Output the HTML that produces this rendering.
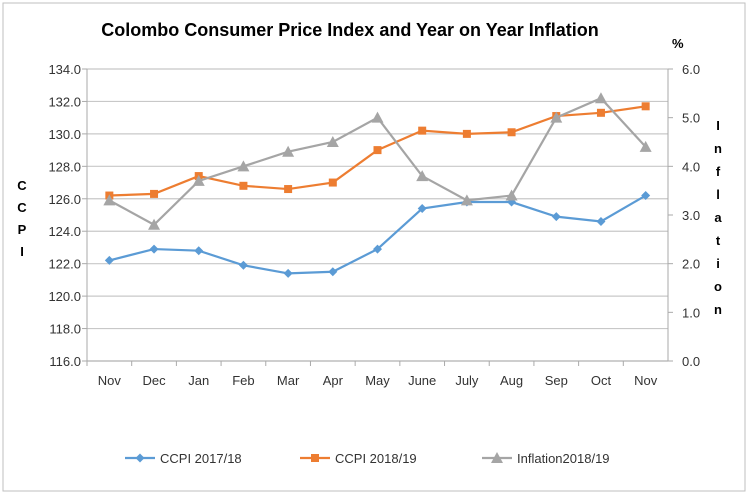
<!DOCTYPE html>
<html><head><meta charset="utf-8">
<style>
body{margin:0;background:#fff;font-family:"Liberation Sans",sans-serif;}
svg{display:block;}
</style></head>
<body>
<svg id="chart" width="750" height="496">
<rect x="3" y="3" width="742" height="488" fill="#fff" stroke="#bfbfbf"/>
<text x="350" y="36" text-anchor="middle" font-size="18" font-weight="bold" fill="#000">Colombo Consumer Price Index and Year on Year Inflation</text>
<text x="672" y="48" font-size="13" font-weight="bold">%</text>
<g id="grid"></g><g id="axes"></g><g id="series"></g>
<g font-size="13" font-weight="bold">
<text x="22" y="190" text-anchor="middle">C</text><text x="22" y="212" text-anchor="middle">C</text><text x="22" y="234" text-anchor="middle">P</text><text x="22" y="256" text-anchor="middle">I</text>
</g>
<g font-size="13" font-weight="bold" id="rtitle"></g>
<g id="legend"></g>
</svg>
<script>
const categories=["Nov","Dec","Jan","Feb","Mar","Apr","May","June","July","Aug","Sep","Oct","Nov"];
const ccpi1718=[122.2,122.9,122.8,121.9,121.4,121.5,122.9,125.4,125.8,125.8,124.9,124.6,126.2];
const ccpi1819=[126.2,126.3,127.4,126.8,126.6,127.0,129.0,130.2,130.0,130.1,131.1,131.3,131.7];
const inflation=[3.3,2.8,3.7,4.0,4.3,4.5,5.0,3.8,3.3,3.4,5.0,5.4,4.4];
const leftTicks=[116,118,120,122,124,126,128,130,132,134];
const rightTicks=[0,1,2,3,4,5,6];

const NS="http://www.w3.org/2000/svg";
const L=87,R=668,T=69,B=361;
const yL=v=>B-(v-116)/18*(B-T);
const yR=v=>B-v/6*(B-T);
const step=(R-L)/categories.length;
const xC=i=>L+step*(i+0.5);
function mk(tag,attrs,parent){const e=document.createElementNS(NS,tag);for(const k in attrs)e.setAttribute(k,attrs[k]);parent.appendChild(e);return e;}
const grid=document.getElementById('grid'),axes=document.getElementById('axes'),ser=document.getElementById('series');
leftTicks.forEach(v=>{
  const y=yL(v);
  const g=mk('line',{x1:L,x2:R,y1:y,y2:y,stroke:'#c8c8c8','stroke-width':1.2},grid);
  
  
  const t=mk('text',{x:L-6,y:y+5,'text-anchor':'end','font-size':13,fill:'#333'},axes);
  t.textContent=v.toFixed(1);
  
  
  mk('line',{x1:L-5,x2:L,y1:y,y2:y,stroke:'#aaa'},axes);
});
rightTicks.forEach(v=>{
  const y=yR(v);
  mk('line',{x1:R,x2:R+5,y1:y,y2:y,stroke:'#aaa'},axes);
  const t=mk('text',{x:R+14,y:y+5,'font-size':13,fill:'#333'},axes);
  t.textContent=v.toFixed(1);
  
  
});
mk('line',{x1:L,x2:L,y1:T,y2:B,stroke:'#aaa'},axes);
mk('line',{x1:R,x2:R,y1:T,y2:B,stroke:'#aaa'},axes);
mk('line',{x1:L,x2:R,y1:B,y2:B,stroke:'#aaa'},axes);
categories.forEach((c,i)=>{
  mk('line',{x1:L+step*i,x2:L+step*i,y1:B,y2:B+5,stroke:'#aaa'},axes);
  const t=mk('text',{x:xC(i),y:B+24,'text-anchor':'middle','font-size':13,fill:'#333'},axes);
  t.textContent=c;
  
  
});
"Inflation".split("").forEach((ch,i)=>{
  const t=mk('text',{x:718,y:130+i*23,'text-anchor':'middle'},document.getElementById('rtitle'));
  t.textContent=ch;
});
function marker(type,x,y,col,p){
  if(type==='diamond')return mk('polygon',{points:`${x},${y-4.5} ${x+4.5},${y} ${x},${y+4.5} ${x-4.5},${y}`,fill:col},p);
  if(type==='square')return mk('rect',{x:x-4,y:y-4,width:8,height:8,fill:col},p);
  return mk('polygon',{points:`${x},${y-6} ${x+6},${y+5} ${x-6},${y+5}`,fill:col},p);
}
function drawSeries(vals,yf,col,type,name){
  const g=mk('g',{},ser);
  
  
  mk('polyline',{points:vals.map((v,i)=>xC(i)+','+yf(v)).join(' '),fill:'none',stroke:col,'stroke-width':2.2},g);
  vals.forEach((v,i)=>{
    const m=marker(type,xC(i),yf(v),col,g);
    
    
  });
}
drawSeries(ccpi1718,yL,'#5b9bd5','diamond','ccpi-2017-18-series');
drawSeries(ccpi1819,yL,'#ed7d31','square','ccpi-2018-19-series');
drawSeries(inflation,yR,'#a5a5a5','triangle','inflation-2018-19-series');
const leg=document.getElementById('legend');
[["CCPI 2017/18",'#5b9bd5','diamond',125],["CCPI 2018/19",'#ed7d31','square',300],["Inflation2018/19",'#a5a5a5','triangle',482]].forEach(([lab,col,type,x])=>{
  const g=mk('g',{},leg);
  
  
  mk('line',{x1:x,x2:x+30,y1:458,y2:458,stroke:col,'stroke-width':2.2},g);
  marker(type,x+15,458,col,g);
  const t=mk('text',{x:x+35,y:463,'font-size':13,fill:'#333'},g);
  t.textContent=lab;
});
</script>
</body></html>
